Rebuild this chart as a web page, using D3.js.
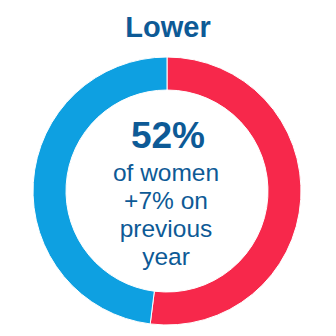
<!DOCTYPE html>
<html>
<head>
<meta charset="utf-8">
<script src="https://cdn.jsdelivr.net/npm/d3@7"></script>
<style>
  html, body { margin: 0; padding: 0; background: #fff; }
  svg { display: block; }
</style>
</head>
<body>
<svg id="chart" width="336" height="336"></svg>
<script>
// Share of women vs men in the "Lower" band
const title = "Lower";
const categories = ["Women", "Men"];
const values = [52, 48];
const colors = ["#f7284b", "#0ea0e1"];
const headline = "52%";
const captionLines = ["of women", "+7% on", "previous", "year"];

const svg = d3.select("#chart");
const cx = 167, cy = 191;
const outerR = 134, innerR = 101;
const textColor = "#0d5a96";

const pie = d3.pie().sort(null).value(d => d.value);
const arc = d3.arc().innerRadius(innerR).outerRadius(outerR);
const data = categories.map((c, i) => ({ category: c, value: values[i], color: colors[i] }));

const g = svg.append("g").attr("transform", `translate(${cx},${cy})`);
g.selectAll("path")
  .data(pie(data))
  .join("path")
  .attr("d", arc)
  .attr("fill", d => d.data.color)
  .attr("stroke", "#ffffff")
  .attr("stroke-width", 1);

svg.append("text")
  .attr("x", 168).attr("y", 37)
  .attr("text-anchor", "middle")
  .attr("font-family", "Liberation Sans, Arial, sans-serif")
  .attr("font-weight", "bold")
  .attr("font-size", 29)
  .attr("fill", textColor)
  .text(title);

g.append("text")
  .attr("x", 1).attr("y", 148 - cy)
  .attr("text-anchor", "middle")
  .attr("font-family", "Liberation Sans, Arial, sans-serif")
  .attr("font-weight", "bold")
  .attr("font-size", 37)
  .attr("fill", textColor)
  .text(headline);

g.selectAll("text.caption")
  .data(captionLines)
  .join("text")
  .attr("class", "caption")
  .attr("x", -1)
  .attr("y", (d, i) => 181 - cy + i * 28)
  .attr("text-anchor", "middle")
  .attr("font-family", "Liberation Sans, Arial, sans-serif")
  .attr("font-size", 24.5)
  .attr("fill", textColor)
  .text(d => d);
</script>
</body>
</html>
